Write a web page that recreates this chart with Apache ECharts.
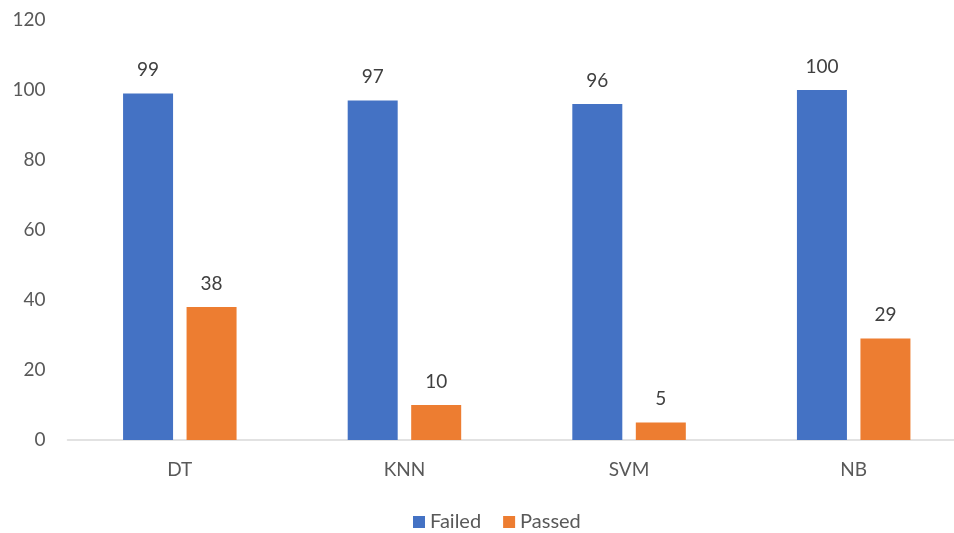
<!DOCTYPE html>
<html>
<head>
<meta charset="utf-8">
<script src="https://cdn.jsdelivr.net/npm/echarts@6/dist/echarts.min.js"></script>
<style>
  html, body { margin: 0; padding: 0; background: #fff; overflow: hidden; }
  #chart { width: 966px; height: 533px; }
</style>
</head>
<body>
<div id="chart"></div>
<script>
// Classifier results: failed vs passed counts per model
const categories = ['DT', 'KNN', 'SVM', 'NB'];
const failed = [99, 97, 96, 100];
const passed = [38, 10, 5, 29];
const yTicks = { min: 0, max: 120, interval: 20 };

const FONT = 'Lato, "Open Sans", sans-serif';

const chart = echarts.init(document.getElementById('chart'), null, { renderer: 'canvas' });

const labelStyle = {
  show: true,
  position: 'top',
  distance: 14,
  color: '#404040',
  fontFamily: FONT,
  fontSize: 19
};

chart.setOption({
  animation: false,
  backgroundColor: '#ffffff',
  grid: { left: 67.5, right: 0, top: 20, bottom: 93, containLabel: false },
  legend: {
    top: 507,
    left: 408,
    itemWidth: 12,
    itemHeight: 12,
    itemGap: 22,
    icon: 'rect',
    textStyle: { color: '#595959', fontFamily: FONT, fontSize: 20 },
    data: ['Failed', 'Passed']
  },
  xAxis: {
    type: 'category',
    data: categories,
    axisLine: { lineStyle: { color: '#d9d9d9', width: 1.5 } },
    axisTick: { show: false },
    axisLabel: { color: '#595959', fontFamily: FONT, fontSize: 19, margin: 20 }
  },
  yAxis: {
    type: 'value',
    min: yTicks.min,
    max: yTicks.max,
    interval: yTicks.interval,
    splitLine: { show: false },
    axisLine: { show: false },
    axisTick: { show: false },
    axisLabel: { color: '#595959', fontFamily: FONT, fontSize: 19, margin: 22 }
  },
  series: [
    {
      name: 'Failed',
      type: 'bar',
      data: failed,
      barWidth: 50,
      barGap: '27%',
      itemStyle: { color: '#4472c4' },
      label: labelStyle
    },
    {
      name: 'Passed',
      type: 'bar',
      data: passed,
      barWidth: 50,
      itemStyle: { color: '#ed7d31' },
      label: labelStyle
    }
  ]
});
</script>
</body>
</html>
